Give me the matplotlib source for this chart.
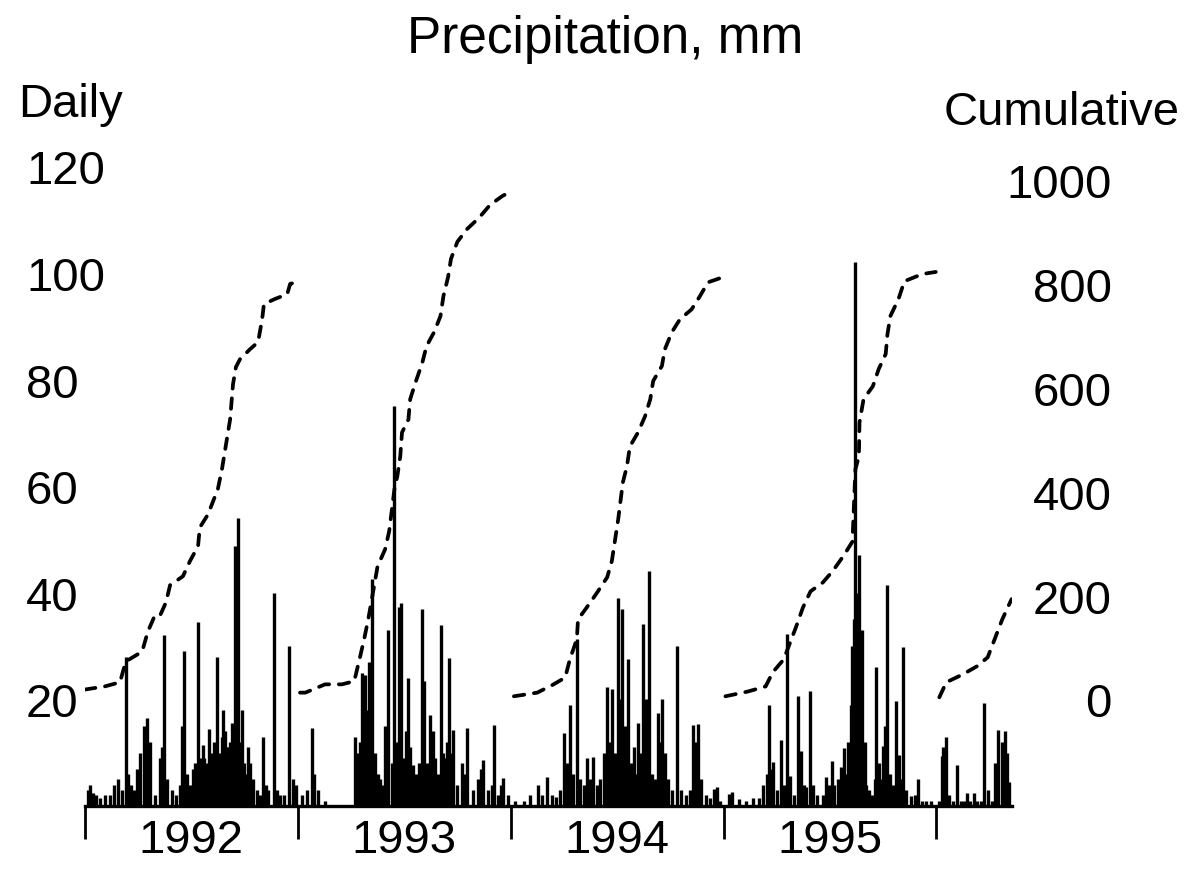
import matplotlib
matplotlib.use("Agg")
import matplotlib.pyplot as plt
import numpy as np

plt.rcParams["font.family"] = ["Liberation Sans", "DejaVu Sans"]

YEARS = ["1992", "1993", "1994", "1995", "1996"]
YEAR_START = [0, 366, 731, 1096, 1461]  # day offset from 1992-01-01

# daily precipitation: (day of year, mm), one list per year
d92 = [(5, 3), (9, 4), (14, 2.5), (19, 2), (26, 1.5), (34, 2), (43, 2), (50, 4), (57, 5), (63, 3),
       (70, 28), (74, 6), (79, 4), (84, 3), (89, 7), (94, 10), (101, 15), (106, 16.5), (112, 12),
       (120, 2), (129, 9), (132, 11), (136, 32), (141, 5), (149, 3), (156, 2), (163, 4), (166, 15),
       (170, 29), (175, 6), (180, 4), (185, 7), (189, 8), (194, 34.5), (197, 9), (199, 7), (202, 11.5),
       (205, 9), (208, 8), (211, 6), (213, 14.5), (216, 10), (218, 9), (221, 12), (223, 7), (227, 28),
       (230, 8), (232, 10), (235, 13), (237, 18), (240, 14), (242, 11), (245, 11), (247, 9), (249, 12),
       (252, 15.6), (254, 14), (257, 48.7), (260, 16), (263, 54), (266, 12), (269, 18), (272, 8),
       (275, 6), (280, 11), (283, 8), (288, 5), (295, 3), (300, 2), (305, 13), (311, 4), (314, 3),
       (324, 40), (329, 3), (335, 2), (341, 2), (350, 30), (357, 5), (362, 4)]
d93 = [(7, 2), (15, 3), (24, 14.6), (27, 6), (33, 3), (46, 1), (98, 13), (101, 10), (103, 8),
       (106, 12), (110, 25), (113, 14), (115, 24.6), (118, 18), (122, 27), (127, 42.6), (132, 10),
       (137, 6), (141, 5), (144, 4), (149, 15), (154, 33), (160, 8), (165, 75), (168, 12),
       (172, 37.4), (177, 38), (182, 9), (185, 14), (189, 24), (192, 11), (196, 7.7), (202, 6),
       (208, 8), (213, 37), (216, 23.4), (221, 8), (226, 17), (232, 14), (235, 9), (239, 6),
       (245, 34), (249, 10), (252, 9), (256, 12), (259, 27.8), (263, 10), (266, 14.3), (273, 4),
       (281, 8), (285, 6), (290, 14.6), (299, 3), (309, 5), (314, 7), (317, 8.6), (326, 3),
       (333, 4), (336, 15.2), (343, 2), (348, 4), (352, 5.2), (360, 2)]
d94 = [(7, 1), (22, 1), (33, 2), (46, 4), (53, 2), (62, 5.5), (70, 2), (77, 1.7), (84, 3),
       (91, 13.7), (96, 8), (101, 19), (106, 6), (113, 31.4), (118, 5), (125, 4), (130, 9),
       (136, 5), (141, 9.2), (148, 4), (153, 5), (160, 10), (165, 22.4), (168, 12), (173, 22),
       (178, 10), (184, 39), (187, 20), (190, 37), (196, 15), (201, 27.6), (206, 8), (211, 11),
       (214, 6), (218, 15.6), (221, 10), (227, 34.2), (232, 20), (237, 44), (242, 6), (247, 5),
       (252, 17.5), (256, 12), (259, 20), (264, 10), (269, 5), (276, 3), (285, 30), (292, 3),
       (300, 2), (307, 3), (312, 15.2), (317, 12), (321, 15.4), (326, 5), (335, 2), (341, 1.5),
       (348, 3.2), (353, 3.6), (359, 1)]
d95 = [(9, 2.3), (15, 2.7), (26, 1.3), (38, 1), (51, 1.5), (60, 1.5), (67, 4), (74, 6), (77, 19),
       (81, 7), (84, 8.3), (91, 3), (98, 12.4), (103, 4), (108, 32.3), (113, 5.6), (120, 2),
       (127, 20.6), (132, 10.3), (137, 4), (141, 3.5), (148, 21.6), (153, 4), (160, 2), (170, 2),
       (175, 5.4), (180, 4), (185, 8.4), (190, 4), (196, 5), (201, 7.3), (206, 10.9), (211, 6),
       (214, 12), (218, 19), (221, 30), (223, 35), (226, 102), (230, 40), (232, 47), (235, 20),
       (238, 33), (242, 12), (245, 4), (249, 3), (254, 2), (259, 5), (262, 26), (266, 8), (269, 5),
       (273, 11.3), (276, 15), (280, 41.4), (285, 6), (290, 4), (295, 19.7), (300, 9.6), (304, 5),
       (307, 29.8), (312, 3), (321, 1.9), (328, 2), (333, 5), (340, 1), (347, 1), (355, 1)]
d96 = [(5, 1), (9, 9.4), (12, 11), (17, 13), (22, 2), (29, 1), (36, 7.7), (43, 1), (48, 1),
       (53, 2.5), (58, 1), (65, 2.5), (70, 1), (76, 1), (82, 19.4), (88, 3), (96, 1), (101, 8),
       (106, 14.3), (112, 12), (117, 14), (122, 10), (125, 4.5)]

# cumulative precipitation per year: (day of year, mm)
c92 = [(0, 19), (34, 25), (60, 33), (70, 73), (98, 92), (108, 131), (120, 162), (129, 162),
       (139, 187), (146, 220), (168, 237), (180, 266), (194, 295), (197, 331), (211, 356),
       (220, 382), (228, 405), (235, 443), (242, 491), (249, 539), (254, 607), (259, 640),
       (266, 655), (283, 674), (297, 688), (304, 732), (307, 761), (326, 771), (347, 780),
       (352, 800), (362, 803)]
c93 = [(3, 13), (12, 13), (46, 29), (75, 29), (96, 35), (105, 77), (113, 116), (120, 154),
       (124, 179), (136, 256), (149, 289), (156, 324), (165, 405), (170, 430), (175, 468),
       (178, 514), (189, 539), (192, 578), (202, 613), (213, 649), (220, 680), (233, 707),
       (244, 738), (249, 776), (257, 813), (262, 848), (273, 881), (290, 906), (310, 927),
       (329, 952), (350, 969), (360, 975)]
c94 = [(5, 6), (45, 13), (70, 27), (93, 42), (101, 77), (113, 116), (115, 154), (130, 177),
       (148, 206), (165, 235), (173, 266), (184, 347), (192, 418), (199, 449), (204, 487),
       (218, 514), (230, 545), (239, 578), (244, 613), (259, 642), (264, 674), (276, 707),
       (290, 732), (310, 751), (324, 776), (338, 803), (364, 813)]
c95 = [(3, 6), (41, 15), (72, 25), (84, 52), (103, 77), (124, 139), (136, 177), (149, 208),
       (170, 225), (187, 247), (206, 277), (221, 304), (226, 443), (232, 468), (233, 533),
       (240, 578), (256, 603), (266, 636), (278, 665), (281, 703), (286, 738), (300, 771),
       (310, 805), (341, 819), (364, 823)]
c96 = [(5, 4), (17, 33), (45, 48), (70, 64), (88, 81), (100, 116), (113, 154), (129, 193)]

DAILY = [d92, d93, d94, d95, d96]
CUM = [c92, c93, c94, c95, c96]
LEFT_TICKS = [20, 40, 60, 80, 100, 120]
RIGHT_TICKS = [0, 200, 400, 600, 800, 1000]

FS = 34
W, H = 11.86, 8.78
fig = plt.figure(figsize=(W, H), dpi=100)
# axis area in pixels: x 85..1012, daily 0 at y=807, 5.33 px per mm
x0, x1, ybase, ppm = 85, 1012, 807, 5.33
ymax = 125
ax = fig.add_axes([x0 / 1186, 1 - ybase / 878, (x1 - x0) / 1186, ymax * ppm / 878])

for start, rows in zip(YEAR_START, DAILY):
    days = np.array([r[0] for r in rows]) + start
    vals = np.array([r[1] for r in rows])
    ax.vlines(days, 0, vals, color="black", lw=2.4)

ax.set_xlim(0, (x1 - x0) * 1.716)
ax.set_ylim(0, ymax)

# right axis: cumulative 0 sits at daily 20, 1000 at daily ~117.4
k = 1000 / ((ybase - 181) / ppm - 20)
ax2 = ax.twinx()
ax2.set_ylim(-20 * k, (ymax - 20) * k)
for start, rows in zip(YEAR_START, CUM):
    days = np.array([r[0] for r in rows]) + start
    vals = np.array([r[1] for r in rows])
    ax2.plot(days, vals, color="black", lw=2.7, ls=(0, (2.8, 2.6)), solid_capstyle="round",
             dash_capstyle="round")

for a in (ax, ax2):
    for s in ("top", "left", "right"):
        a.spines[s].set_visible(False)
ax2.spines["bottom"].set_visible(False)
ax.spines["bottom"].set_linewidth(2.4)

# x: year boundary ticks, year names centred in each year
ax.set_xticks(YEAR_START)
ax.set_xticklabels([])
ax.tick_params(axis="x", which="major", length=24, width=2.0, direction="out")
mids = [s + 182 for s in YEAR_START[:4]]
ax.set_xticks(mids, minor=True)
ax.set_xticklabels(YEARS[:4], minor=True, fontsize=FS)
ax.tick_params(axis="x", which="minor", length=0, pad=9)

ax.set_yticks(LEFT_TICKS)
ax.set_yticklabels([str(v) for v in LEFT_TICKS], fontsize=FS, ha="left")
ax.tick_params(axis="y", length=0, pad=(x0 - 26) * 0.72)

ax2.set_yticks(RIGHT_TICKS)
ax2.set_yticklabels([str(v) for v in RIGHT_TICKS], fontsize=FS, ha="right")
ax2.tick_params(axis="y", length=0, pad=(1112 - x1) * 0.72)

fig.text(605 / 1186, 1 - 40 / 878, "Precipitation, mm", fontsize=37, ha="center", va="center")
fig.text(18 / 1186, 1 - 105 / 878, "Daily", fontsize=FS, ha="left", va="center")
fig.text(1180 / 1186, 1 - 113 / 878, "Cumulative", fontsize=FS, ha="right", va="center")

fig.savefig("out.png", dpi=100)
